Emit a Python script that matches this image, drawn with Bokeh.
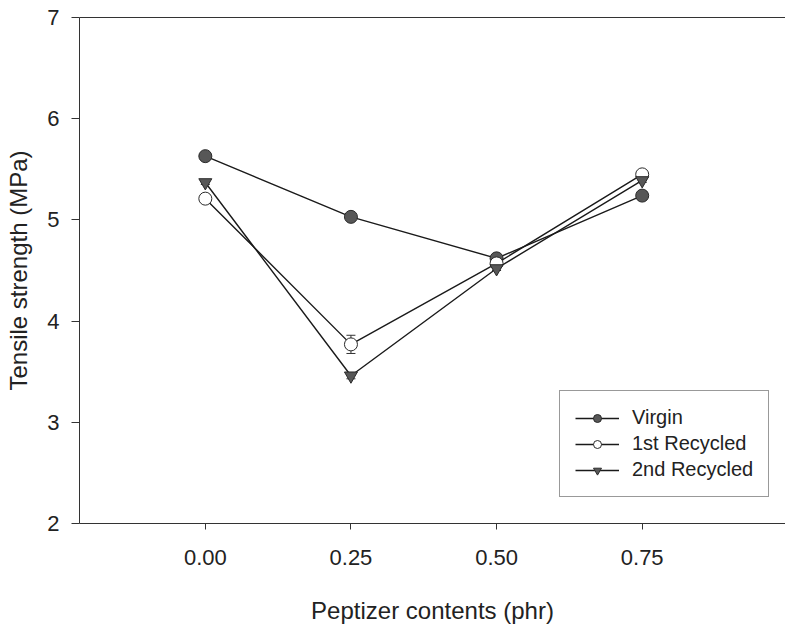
from bokeh.plotting import figure
from bokeh.models import (ColumnDataSource, FixedTicker, PrintfTickFormatter,
                          Legend, LegendItem, Whisker, TeeHead, LinearAxis, Range1d)
from bokeh.embed import file_html
from bokeh.resources import INLINE

# Peptizer content (phr) and tensile strength (MPa) for each compound
peptizer = [0.00, 0.25, 0.50, 0.75]
virgin = [5.63, 5.03, 4.62, 5.24]
virgin_err = [0.03, 0.02, 0.03, 0.02]
recycled_1 = [5.21, 3.77, 4.57, 5.45]
recycled_1_err = [0.03, 0.09, 0.03, 0.02]
recycled_2 = [5.37, 3.46, 4.52, 5.39]
recycled_2_err = [0.02, 0.03, 0.02, 0.02]

x_ticks = [0.00, 0.25, 0.50, 0.75]
y_ticks = [2, 3, 4, 5, 6, 7]

FONT = "Liberation Sans"
INK = "#222222"

p = figure(width=785, height=626, output_backend="svg", toolbar_location=None,
           x_range=Range1d(-0.216, 0.996), y_range=Range1d(2, 7),
           min_border_left=79, min_border_right=0, min_border_top=17,
           min_border_bottom=103, background_fill_color="white",
           border_fill_color="white")
p.outline_line_color = None
p.grid.visible = False

# x axis
xa = p.xaxis[0]
xa.ticker = FixedTicker(ticks=x_ticks)
xa.formatter = PrintfTickFormatter(format="%.2f")
xa.axis_label = "Peptizer contents (phr)"
xa.major_tick_out = 6
xa.major_tick_in = 0
xa.minor_tick_line_color = None
xa.major_label_standoff = 20
xa.axis_label_standoff = 29

# y axis
ya = p.yaxis[0]
ya.ticker = FixedTicker(ticks=y_ticks)
ya.axis_label = "Tensile strength (MPa)"
ya.major_tick_out = 8
ya.major_tick_in = 0
ya.minor_tick_line_color = None
ya.major_label_standoff = 12
ya.axis_label_standoff = 12

for ax in (xa, ya):
    ax.axis_line_color = "#333333"
    ax.major_tick_line_color = "#333333"
    ax.axis_line_width = 1
    ax.major_label_text_font = FONT
    ax.major_label_text_font_size = "22px"
    ax.major_label_text_color = INK
    ax.axis_label_text_font = FONT
    ax.axis_label_text_font_size = "24px"
    ax.axis_label_text_font_style = "normal"
    ax.axis_label_text_color = INK

# top frame line
top = LinearAxis(ticker=FixedTicker(ticks=[]), axis_line_color="#333333",
                 major_tick_line_color=None, minor_tick_line_color=None,
                 major_label_text_font_size="0px")
p.add_layout(top, "above")

src = ColumnDataSource(dict(
    x=peptizer,
    v=virgin, v_lo=[a - b for a, b in zip(virgin, virgin_err)],
    v_hi=[a + b for a, b in zip(virgin, virgin_err)],
    r1=recycled_1, r1_lo=[a - b for a, b in zip(recycled_1, recycled_1_err)],
    r1_hi=[a + b for a, b in zip(recycled_1, recycled_1_err)],
    r2=recycled_2, r2_lo=[a - b for a, b in zip(recycled_2, recycled_2_err)],
    r2_hi=[a + b for a, b in zip(recycled_2, recycled_2_err)],
))

series = [
    ("Virgin", "v", "circle", "#575757"),
    ("1st Recycled", "r1", "circle", "white"),
    ("2nd Recycled", "r2", "inverted_triangle", "#575757"),
]

items = []
for label, col, marker, fill in series:
    ln = p.line("x", col, source=src, line_color="#1a1a1a", line_width=1.4)
    wk = Whisker(source=src, base="x", lower=col + "_lo", upper=col + "_hi",
                 line_color="#333333", line_width=1,
                 upper_head=TeeHead(size=9, line_color="#333333", line_width=1),
                 lower_head=TeeHead(size=9, line_color="#333333", line_width=1))
    p.add_layout(wk)
    sc = p.scatter("x", col, source=src, marker=marker, size=13,
                   fill_color=fill, line_color="#2a2a2a", line_width=1)
    items.append(LegendItem(label=label, renderers=[ln, sc]))

legend = Legend(items=items, location=(480, 26), padding=15, spacing=3,
                glyph_width=44, glyph_height=20, label_height=20,
                label_standoff=13, label_text_font=FONT,
                label_text_font_size="20px", label_text_color=INK,
                border_line_color="#333333", border_line_width=1,
                background_fill_color="white", background_fill_alpha=1,
                margin=0)
p.add_layout(legend, "center")

open("out.html", "w").write(file_html(p, INLINE))
